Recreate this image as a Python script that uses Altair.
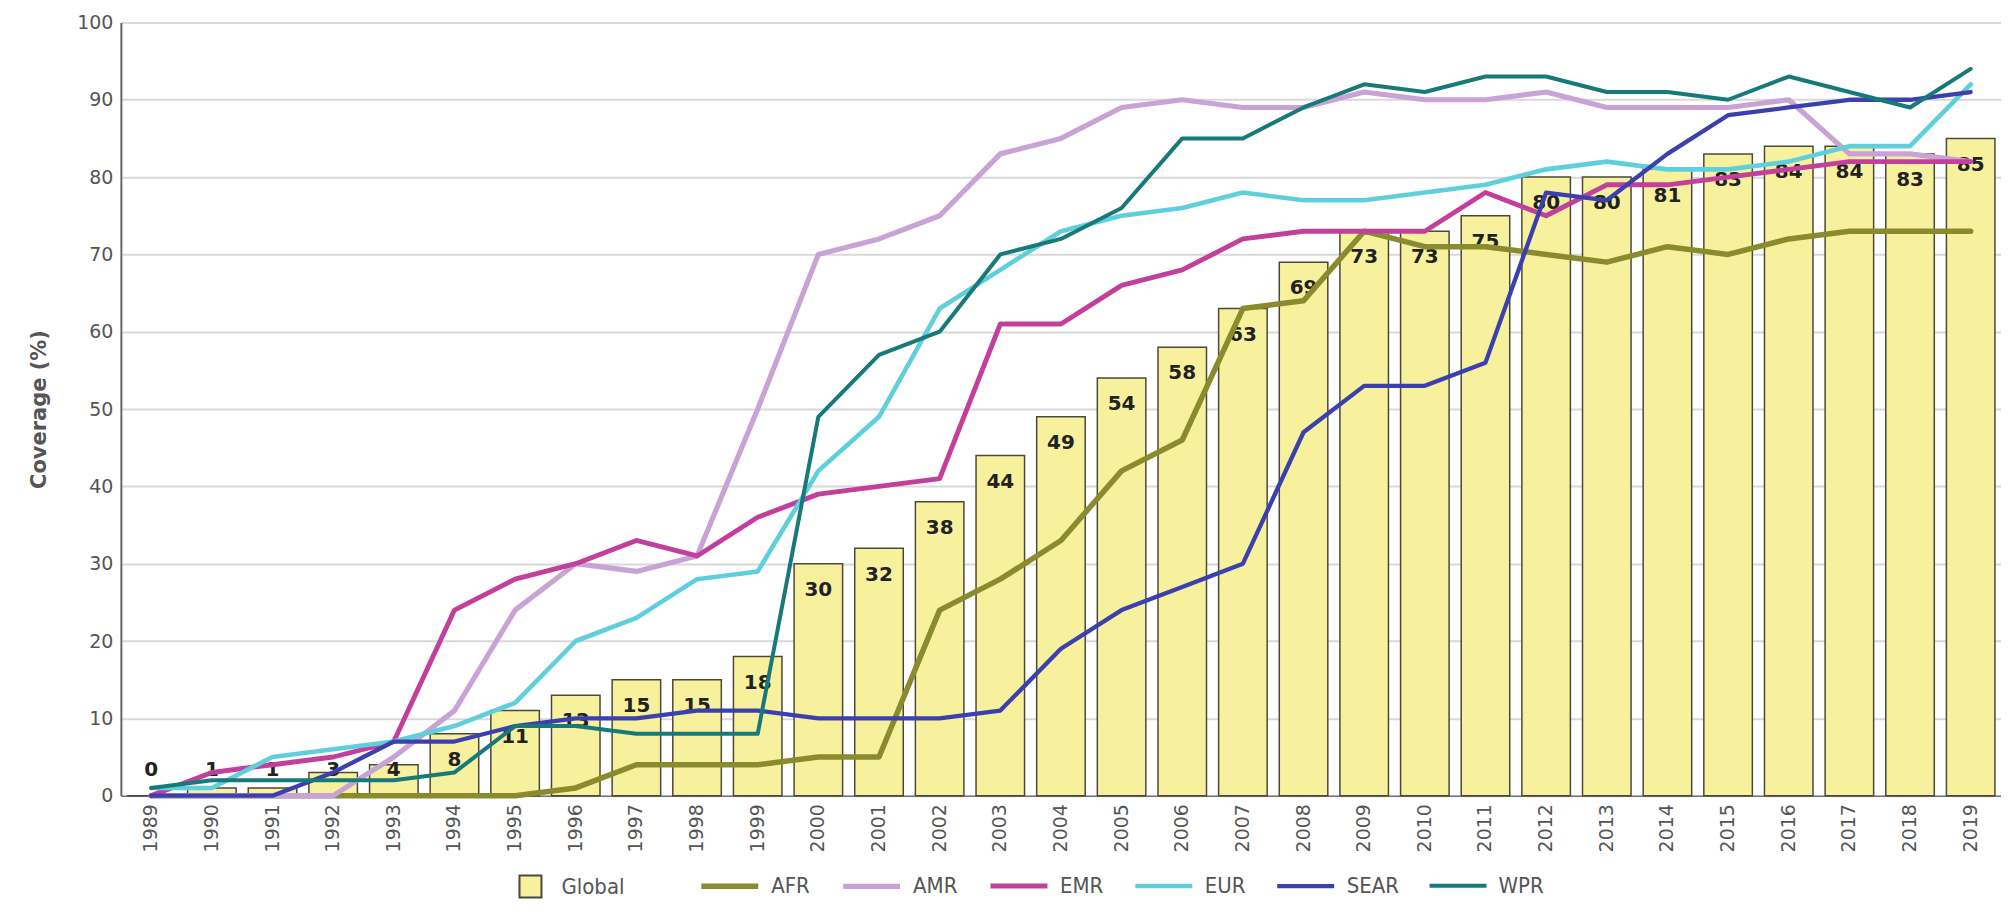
import altair as alt
import pandas as pd

years = [str(y) for y in range(1989, 2020)]
global_cov = [0, 1, 1, 3, 4, 8, 11, 13, 15, 15, 18, 30, 32, 38, 44, 49, 54, 58, 63, 69,
              73, 73, 75, 80, 80, 81, 83, 84, 84, 83, 85]
afr = [0, 0, 0, 0, 0, 0, 0, 1, 4, 4, 4, 5, 5, 24, 28, 33, 42, 46, 63, 64,
       73, 71, 71, 70, 69, 71, 70, 72, 73, 73, 73]
amr = [0, 0, 0, 0, 5, 11, 24, 30, 29, 31, 50, 70, 72, 75, 83, 85, 89, 90, 89, 89,
       91, 90, 90, 91, 89, 89, 89, 90, 83, 83, 82]
emr = [0, 3, 4, 5, 7, 24, 28, 30, 33, 31, 36, 39, 40, 41, 61, 61, 66, 68, 72, 73,
       73, 73, 78, 75, 79, 79, 80, 81, 82, 82, 82]
eur = [1, 1, 5, 6, 7, 9, 12, 20, 23, 28, 29, 42, 49, 63, 68, 73, 75, 76, 78, 77,
       77, 78, 79, 81, 82, 81, 81, 82, 84, 84, 92]
sear = [0, 0, 0, 3, 7, 7, 9, 10, 10, 11, 11, 10, 10, 10, 11, 19, 24, 27, 30, 47,
        53, 53, 56, 78, 77, 83, 88, 89, 90, 90, 91]
wpr = [1, 2, 2, 2, 2, 3, 9, 9, 8, 8, 8, 49, 57, 60, 70, 72, 76, 85, 85, 89,
       92, 91, 93, 93, 91, 91, 90, 93, 91, 89, 94]

regions = ["AFR", "AMR", "EMR", "EUR", "SEAR", "WPR"]
region_values = [afr, amr, emr, eur, sear, wpr]
region_colors = ["#8a8b2d", "#c9a3d5", "#c2409c", "#5fcfdc", "#3a40ad", "#17797a"]
region_widths = [5.5, 4, 5.5, 5.5, 5.5, 5.5]

legend_font = "DejaVu Sans Condensed, Roboto, sans-serif"

bar_df = pd.DataFrame({"Year": years, "Coverage": global_cov, "Series": "Global"})
line_rows = []
for name, vals in zip(regions, region_values):
    for y, v in zip(years, vals):
        line_rows.append({"Year": y, "Coverage": v, "Series": name})
line_df = pd.DataFrame(line_rows)

x_enc = alt.X("Year:O", sort=years, title=None,
              scale=alt.Scale(paddingInner=0.2, paddingOuter=0.1),
              axis=alt.Axis(labelAngle=270, labelFont="DejaVu Sans", labelFontSize=19,
                            labelColor="#555555", labelPadding=8, ticks=False,
                            domainColor="#777777", domainWidth=1.5))
y_scale = alt.Scale(domain=[0, 100], nice=False)

bars = alt.Chart(bar_df).mark_bar(stroke="#4a4a3a", strokeWidth=1.5).encode(
    x=x_enc,
    y=alt.Y("Coverage:Q", scale=y_scale, title="Coverage (%)",
            axis=alt.Axis(values=list(range(0, 101, 10)), labelFont="DejaVu Sans",
                          labelFontSize=19, labelColor="#555555", labelPadding=8,
                          ticks=False, domainColor="#666666", domainWidth=2,
                          gridColor="#d9d9d9", gridWidth=2,
                          titleFont="DejaVu Sans", titleFontSize=21, titleFontWeight="bold",
                          titleColor="#555555", titlePadding=27)),
    fill=alt.Fill("Series:N", scale=alt.Scale(domain=["Global"], range=["#f7f19e"]),
                  legend=alt.Legend(title=None, orient="none", legendX=398, legendY=853,
                                    symbolType="square", symbolSize=484,
                                    symbolStrokeColor="#4a4a3a", symbolStrokeWidth=2,
                                    labelFont=legend_font, labelFontSize=22,
                                    labelColor="#555555", labelOffset=19)),
)

labels = alt.Chart(bar_df).transform_calculate(
    LabelPos="max(datum.Coverage - 3.4, 3.3)"
).mark_text(font="DejaVu Sans", fontSize=20, fontWeight="bold", color="#222222",
            baseline="middle").encode(
    x=alt.X("Year:O", sort=years),
    y=alt.Y("LabelPos:Q", scale=y_scale),
    text="Coverage:Q",
)

lines = alt.Chart(line_df).mark_line(strokeJoin="round", strokeCap="round").encode(
    x=alt.X("Year:O", sort=years),
    y=alt.Y("Coverage:Q", scale=y_scale),
    stroke=alt.Stroke("Series:N", sort=regions,
                      scale=alt.Scale(domain=regions, range=region_colors),
                      legend=alt.Legend(title=None, orient="none", legendX=578, legendY=833,
                                        direction="horizontal", symbolType="stroke",
                                        symbolSize=3249, symbolStrokeWidth=6,
                                        labelFont=legend_font, labelFontSize=22,
                                        labelColor="#555555", labelOffset=10,
                                        columnPadding=22)),
    strokeWidth=alt.StrokeWidth("Series:N",
                                scale=alt.Scale(domain=regions, range=region_widths),
                                legend=None),
)

chart = alt.layer(bars, labels, lines).properties(
    width=1882, height=774,
    padding={"left": 20, "top": 5, "right": 0, "bottom": 0},
).configure_view(stroke=None).configure_axisX(grid=False)

chart.save("out.html", embed_options={"renderer": "svg", "actions": False})
